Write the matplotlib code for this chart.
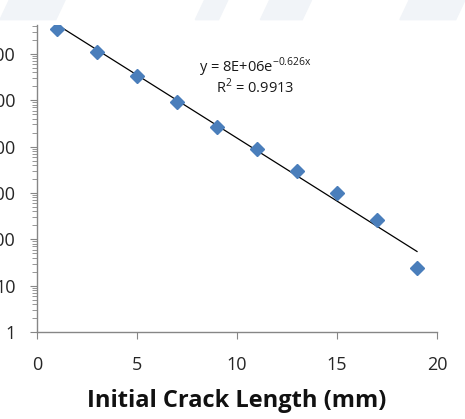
import matplotlib
matplotlib.use('Agg')
import matplotlib.pyplot as plt
import matplotlib.ticker as mticker
from matplotlib.patches import Polygon
import numpy as np

# Data
crack_length = [1, 3, 5, 7, 9, 11, 13, 15, 17, 19]
cycles = [3.45e6, 1.1e6, 3.4e5, 9.3e4, 2.7e4, 9.1e3, 3.0e3, 1.0e3, 2.6e2, 24]

# Excel exponential trendline
trend_a = 8e6
trend_b = -0.626
trend_x = [1, 19]
r_squared = 0.9913

x_ticks = [0, 5, 10, 15, 20]
y_ticks = [1, 10, 100, 1000, 10000, 100000, 1000000]

plt.rcParams['font.family'] = ['Open Sans', 'DejaVu Sans']

fig = plt.figure(figsize=(4.65, 4.19), dpi=100)

# faint watermark band at the top
for x0, w in [(0.02, 0.12), (0.44, 0.05), (0.58, 0.09), (0.88, 0.12)]:
    fig.patches.append(Polygon([[x0, 1.0], [x0 + w, 1.0], [x0 + w - 0.02, 0.953], [x0 - 0.02, 0.953]],
                               closed=True, transform=fig.transFigure, color='#f1f4f8', zorder=0))

ax = fig.add_axes([0.0796, 0.2076, 0.8602, 0.7327])

ax.plot(crack_length, cycles, linestyle='none', marker='D', markersize=7,
        color='#4a7ebb', zorder=3)
tx = np.array(trend_x, dtype=float)
ax.plot(tx, trend_a * np.exp(trend_b * tx), color='black', linewidth=0.9, zorder=2)

ax.set_yscale('log')
ax.set_xlim(0, 20)
ax.set_ylim(1, 4.2e6)
ax.set_xticks(x_ticks)
ax.set_yticks(y_ticks)
ax.yaxis.set_major_formatter(mticker.FuncFormatter(lambda v, p: f"{int(round(v))}"))
ax.yaxis.set_minor_locator(mticker.LogLocator(base=10, subs=np.arange(2, 10)))
ax.yaxis.set_minor_formatter(mticker.NullFormatter())

for s in ['top', 'right']:
    ax.spines[s].set_visible(False)
for s in ['left', 'bottom']:
    ax.spines[s].set_color('#868686')
    ax.spines[s].set_linewidth(1.0)

ax.tick_params(axis='both', which='both', direction='out', color='#868686',
               labelcolor='#262626', labelsize=13)
ax.tick_params(axis='y', which='major', length=5, pad=10.5)
ax.tick_params(axis='y', which='minor', length=3.5)
ax.tick_params(axis='x', which='major', length=5, pad=12)

ax.set_xlabel('Initial Crack Length (mm)', fontsize=17, fontweight='bold',
              color='#111111', labelpad=11)

ax.text(0.545, 0.863, f"y = 8E+06e$^{{\\mathregular{{{trend_b}x}}}}$", transform=ax.transAxes,
        ha='center', va='center', fontsize=10.5, color='#1a1a1a')
ax.text(0.545, 0.797, f"R$^{{\\mathregular{{2}}}}$ = {r_squared}", transform=ax.transAxes,
        ha='center', va='center', fontsize=10.5, color='#1a1a1a')

fig.savefig('out.png', dpi=100)
